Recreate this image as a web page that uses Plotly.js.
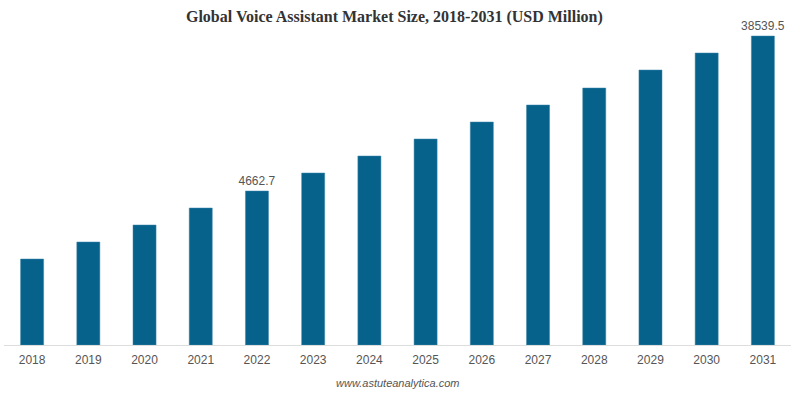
<!DOCTYPE html>
<html>
<head>
<meta charset="utf-8">
<script src="https://cdn.plot.ly/plotly-3.0.1.min.js"></script>
<style>html,body{margin:0;padding:0;background:#fff;}#chart{width:800px;height:397px;}</style>
</head>
<body>
<div id="chart"></div>
<script>
// Categories (years)
var years = ["2018","2019","2020","2021","2022","2023","2024","2025","2026","2027","2028","2029","2030","2031"];
// Bar heights as drawn in the reference (the chart is illustrative, not to scale)
var barHeights = [86, 103, 120, 137, 154, 172, 189, 206, 223, 240, 257, 275, 292, 309];
// Value labels shown on the chart (USD Million)
var valueLabels = ["", "", "", "", "4662.7", "", "", "", "", "", "", "", "", "38539.5"];

var trace = {
  type: "bar",
  x: years,
  y: barHeights,
  text: valueLabels,
  textposition: "outside",
  texttemplate: "%{text}",
  constraintext: "none",
  textfont: {family: "Liberation Sans, Arial, sans-serif", size: 12, color: "#555555"},
  cliponaxis: false,
  marker: {color: "#06628b", line: {color: "#3f86a8", width: 0.5}},
  hoverinfo: "none"
};

var layout = {
  width: 800,
  height: 397,
  margin: {l: 4, r: 9, t: 20, b: 52},
  paper_bgcolor: "#ffffff",
  plot_bgcolor: "#ffffff",
  bargap: 0.59,
  showlegend: false,
  title: {
    text: "<b>Global Voice Assistant Market Size, 2018-2031 (USD Million)</b>",
    font: {family: "Liberation Serif, Times New Roman, serif", size: 16, color: "#333333"},
    x: 0.493, xanchor: "center", y: 0.958, yanchor: "middle"
  },
  xaxis: {
    type: "category",
    showline: true,
    linecolor: "#dddddd",
    linewidth: 1,
    showgrid: false,
    ticks: "",
    tickfont: {family: "Liberation Sans, Arial, sans-serif", size: 12, color: "#555555"},
    ticklabelstandoff: 4,
    fixedrange: true
  },
  yaxis: {
    range: [0, 325],
    visible: false,
    showgrid: false,
    zeroline: false,
    fixedrange: true
  },
  annotations: [{
    text: "<i>www.astuteanalytica.com</i>",
    xref: "paper", yref: "paper",
    x: 0.5, y: -0.118, xanchor: "center", yanchor: "middle",
    showarrow: false,
    font: {family: "Liberation Sans, Arial, sans-serif", size: 11, color: "#555555"}
  }]
};

Plotly.newPlot("chart", [trace], layout, {displayModeBar: false, staticPlot: true});
</script>
</body>
</html>
